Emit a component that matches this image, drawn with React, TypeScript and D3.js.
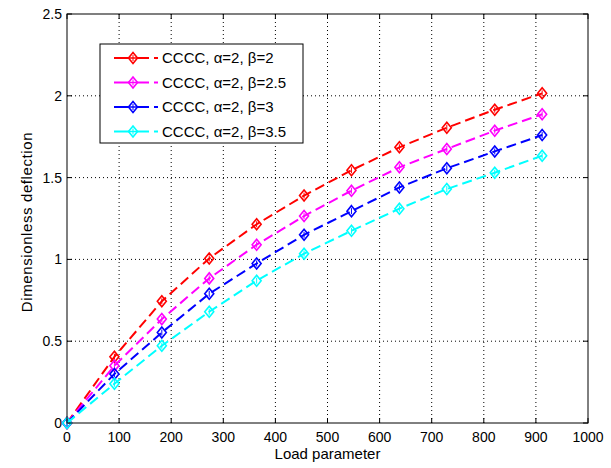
import React from "react";
import * as d3 from "d3";

const loadValues = [0, 91, 182, 273, 364, 455, 546, 638, 729, 821, 912];
const seriesNames = ["CCCC, α=2, β=2", "CCCC, α=2, β=2.5", "CCCC, α=2, β=3", "CCCC, α=2, β=3.5"];
const seriesColors = ["#ff0000", "#ff00ff", "#0000ff", "#00ffff"];
const beta2 = [0, 0.405, 0.744, 1.006, 1.215, 1.39, 1.545, 1.685, 1.805, 1.915, 2.015];
const beta25 = [0, 0.35, 0.635, 0.884, 1.09, 1.265, 1.42, 1.563, 1.675, 1.787, 1.887];
const beta3 = [0, 0.3, 0.553, 0.79, 0.975, 1.15, 1.295, 1.44, 1.557, 1.66, 1.76];
const beta35 = [0, 0.24, 0.472, 0.68, 0.87, 1.035, 1.175, 1.31, 1.43, 1.53, 1.634];
const xTicks = [0, 100, 200, 300, 400, 500, 600, 700, 800, 900, 1000];
const yTicks = [0, 0.5, 1, 1.5, 2, 2.5];

const allSeries = [beta2, beta25, beta3, beta35];

export default function App() {
  const W = 611, H = 468;
  const left = 67, right = 588, top = 14, bottom = 423;
  const x = d3.scaleLinear().domain([0, 1000]).range([left, right]);
  const y = d3.scaleLinear().domain([0, 2.5]).range([bottom, top]);
  const line = d3.line<number>().x((_, i) => x(loadValues[i])).y((v) => y(v));
  const font = "'Liberation Sans', Arial, sans-serif";
  const diamond = (cx: number, cy: number) =>
    `M${cx},${cy - 5.5}L${cx + 4.5},${cy}L${cx},${cy + 5.5}L${cx - 4.5},${cy}Z`;

  const legX = 100, legY = 44, legW = 203, legH = 99;
  const legRow = [58, 82.5, 107, 131.5];

  return (
    <svg width={W} height={H} style={{ position: "absolute", left: 0, top: 0, background: "#fff" }}>
      <rect x={0} y={0} width={W} height={H} fill="#fff" />
      {/* grid */}
      {xTicks.slice(1, -1).map((t) => (
        <line key={"gx" + t} x1={x(t)} x2={x(t)} y1={top} y2={bottom} stroke="#000" strokeWidth={1} strokeDasharray="1,3" />
      ))}
      {yTicks.slice(1, -1).map((t) => (
        <line key={"gy" + t} x1={left} x2={right} y1={y(t)} y2={y(t)} stroke="#000" strokeWidth={1} strokeDasharray="1,3" />
      ))}
      {/* ticks */}
      {xTicks.map((t) => (
        <g key={"tx" + t}>
          <line x1={x(t)} x2={x(t)} y1={bottom} y2={bottom - 5} stroke="#000" />
          <line x1={x(t)} x2={x(t)} y1={top} y2={top + 5} stroke="#000" />
          <text x={x(t)} y={442} textAnchor="middle" fontFamily={font} fontSize={14} fill="#000">{t}</text>
        </g>
      ))}
      {yTicks.map((t) => (
        <g key={"ty" + t}>
          <line x1={left} x2={left + 5} y1={y(t)} y2={y(t)} stroke="#000" />
          <line x1={right} x2={right - 5} y1={y(t)} y2={y(t)} stroke="#000" />
          <text x={left - 5} y={y(t) + 5} textAnchor="end" fontFamily={font} fontSize={14} fill="#000">{t}</text>
        </g>
      ))}
      {/* series */}
      {allSeries.map((s, si) => (
        <g key={"s" + si}>
          <path d={line(s) || ""} fill="none" stroke={seriesColors[si]} strokeWidth={2} strokeDasharray="10,5" />
          {s.map((v, i) => (
            <g key={i}>
              <path d={diamond(x(loadValues[i]), y(v))} fill="none" stroke={seriesColors[si]} strokeWidth={1.6} />
              <line x1={x(loadValues[i])} x2={x(loadValues[i])} y1={y(v) - 3} y2={y(v) + 3} stroke={seriesColors[si]} strokeWidth={1} />
            </g>
          ))}
        </g>
      ))}
      {/* axes box */}
      <rect x={left} y={top} width={right - left} height={bottom - top} fill="none" stroke="#000" strokeWidth={1} />
      {/* legend */}
      <rect x={legX} y={legY} width={legW} height={legH} fill="#fff" stroke="#000" strokeWidth={1} />
      {seriesNames.map((n, i) => (
        <g key={"l" + i}>
          <line x1={114} x2={158} y1={legRow[i]} y2={legRow[i]} stroke={seriesColors[i]} strokeWidth={2} strokeDasharray="15,5" />
          <path d={diamond(133, legRow[i])} fill="#fff" stroke={seriesColors[i]} strokeWidth={1.6} />
          <line x1={128.5} x2={137.5} y1={legRow[i]} y2={legRow[i]} stroke={seriesColors[i]} strokeWidth={1.5} />
          <line x1={133} x2={133} y1={legRow[i] - 3} y2={legRow[i] + 3} stroke={seriesColors[i]} strokeWidth={1} />
          <text x={162} y={legRow[i] + 5} fontFamily={font} fontSize={15} fill="#000">{n}</text>
        </g>
      ))}
      {/* axis labels */}
      <text x={(left + right) / 2} y={459} textAnchor="middle" fontFamily={font} fontSize={15} fill="#000">Load parameter</text>
      <text transform={`translate(32,222) rotate(-90)`} textAnchor="middle" fontFamily={font} fontSize={15} letterSpacing={0.6} fill="#000">Dimensionless deflection</text>
    </svg>
  );
}
